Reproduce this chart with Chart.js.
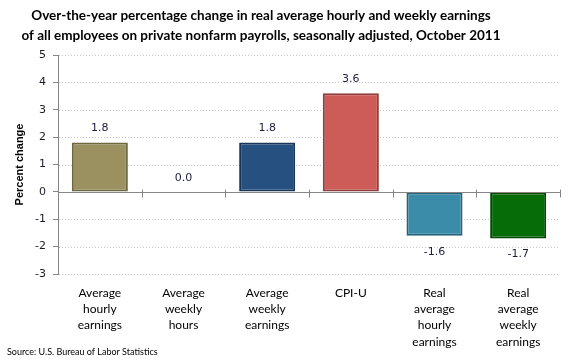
<!DOCTYPE html>
<html><head><meta charset="utf-8">
<script src="https://cdn.jsdelivr.net/npm/chart.js@4/dist/chart.umd.min.js"></script>
<style>html,body{margin:0;padding:0;background:#fff}#wrap{width:580px;height:363px;position:relative}</style>
</head><body><div id="wrap"><canvas id="c" width="580" height="363"></canvas></div>
<script>
const categories = [
  ["Average","hourly","earnings"],
  ["Average","weekly","hours"],
  ["Average","weekly","earnings"],
  ["CPI-U"],
  ["Real","average","hourly","earnings"],
  ["Real","average","weekly","earnings"]
];
const values = [1.8, 0.0, 1.8, 3.6, -1.6, -1.7];
const valueLabels = ["1.8", "0.0", "1.8", "3.6", "-1.6", "-1.7"];
const barColors = ["#9b9160", "#9b9160", "#26507f", "#cd5b58", "#3a8ca8", "#056c07"];
const barBorders = ["#6e6840", "#6e6840", "#1a3659", "#8f3e3c", "#28627a", "#034a04"];
const yTicks = [5, 4, 3, 2, 1, 0, -1, -2, -3];
const titleLines = ["Over-the-year percentage change in real average hourly and weekly earnings",
                    "of all employees on private nonfarm payrolls, seasonally adjusted, October 2011"];
const yTitle = "Percent change";
const sourceText = "Source: U.S. Bureau of Labor Statistics";

const custom = {
  id: 'custom',
  beforeDatasetsDraw(chart) {
    const {ctx, chartArea: a, scales: {y}} = chart;
    ctx.save();
    ctx.strokeStyle = '#c8c8c8';
    ctx.lineWidth = 1;
    ctx.setLineDash([1, 2]);
    yTicks.forEach(v => {
      if (v === 0) return;
      const py = Math.round(y.getPixelForValue(v)) + 0.5;
      ctx.beginPath(); ctx.moveTo(a.left + 1, py); ctx.lineTo(a.right, py); ctx.stroke();
    });
    ctx.restore();
  },
  afterDatasetsDraw(chart) {
    const {ctx, chartArea: a, scales: {x, y}} = chart;
    ctx.save();
    const y0 = Math.round(y.getPixelForValue(0)) + 0.5;
    ctx.strokeStyle = '#868686';
    ctx.lineWidth = 1;
    ctx.beginPath(); ctx.moveTo(a.left, y0); ctx.lineTo(a.right, y0); ctx.stroke();
    const n = categories.length;
    for (let i = 1; i <= n; i++) {
      const px = Math.round(x.left + i * x.width / n) + 0.5;
      ctx.beginPath(); ctx.moveTo(px, y0 - 3); ctx.lineTo(px, y0 + 5); ctx.stroke();
    }
    ctx.fillStyle = '#1c1c3c';
    ctx.font = '11px "DejaVu Sans", Verdana, sans-serif';
    ctx.textAlign = 'center';
    ctx.textBaseline = 'middle';
    const meta = chart.getDatasetMeta(0);
    meta.data.forEach((bar, i) => {
      const v = values[i];
      const top = y.getPixelForValue(v);
      const py = v >= 0 ? top - 14 : top + 16;
      ctx.fillText(valueLabels[i], bar.x, py);
    });
    ctx.restore();
  },
  afterDraw(chart) {
    const {ctx, chartArea: a} = chart;
    ctx.save();
    ctx.fillStyle = '#000';
    ctx.textAlign = 'center';
    ctx.textBaseline = 'middle';
    ctx.font = 'bold 13.5px Lato, sans-serif';
    ctx.fillText(titleLines[0], 261, 16);
    ctx.fillText(titleLines[1], 261, 36);
    ctx.font = 'bold 11px "Liberation Sans", Arial, sans-serif';
    ctx.translate(20, (a.top + a.bottom) / 2);
    ctx.rotate(-Math.PI / 2);
    ctx.fillText(yTitle, 0, 0);
    ctx.restore();
    ctx.save();
    ctx.fillStyle = '#000';
    ctx.font = '9px Lato, sans-serif';
    ctx.textAlign = 'left';
    ctx.textBaseline = 'middle';
    ctx.fillText(sourceText, 7, 352);
    ctx.restore();
  }
};

new Chart(document.getElementById('c'), {
  type: 'bar',
  data: {
    labels: categories,
    datasets: [{
      data: values,
      backgroundColor: barColors,
      borderColor: barBorders,
      borderWidth: 2,
      borderSkipped: false,
      barPercentage: 0.67,
      categoryPercentage: 1
    }]
  },
  options: {
    responsive: false,
    animation: false,
    devicePixelRatio: 1,
    layout: {padding: {top: 55, left: 0, right: 20, bottom: 0}},
    plugins: {legend: {display: false}, tooltip: {enabled: false}, title: {display: false}},
    scales: {
      x: {
        afterFit(s) { s.height = 89; },
        grid: {display: false},
        border: {display: false},
        ticks: {
          color: '#000',
          font: {family: 'Lato, sans-serif', size: 12, lineHeight: 1.35},
          maxRotation: 0, autoSkip: false, padding: 3
        }
      },
      y: {
        min: -3, max: 5,
        afterFit(s) { s.width = 58; },
        afterBuildTicks(s) { s.ticks = yTicks.slice().reverse().map(v => ({value: v})); },
        grid: {drawOnChartArea: false, drawTicks: true, tickLength: 5, tickColor: '#868686'},
        border: {display: true, color: '#868686', width: 1},
        ticks: {
          color: '#1a1a2a',
          font: {family: '"DejaVu Sans", Verdana, sans-serif', size: 11},
          padding: 7
        }
      }
    }
  },
  plugins: [custom]
});
</script></body></html>
